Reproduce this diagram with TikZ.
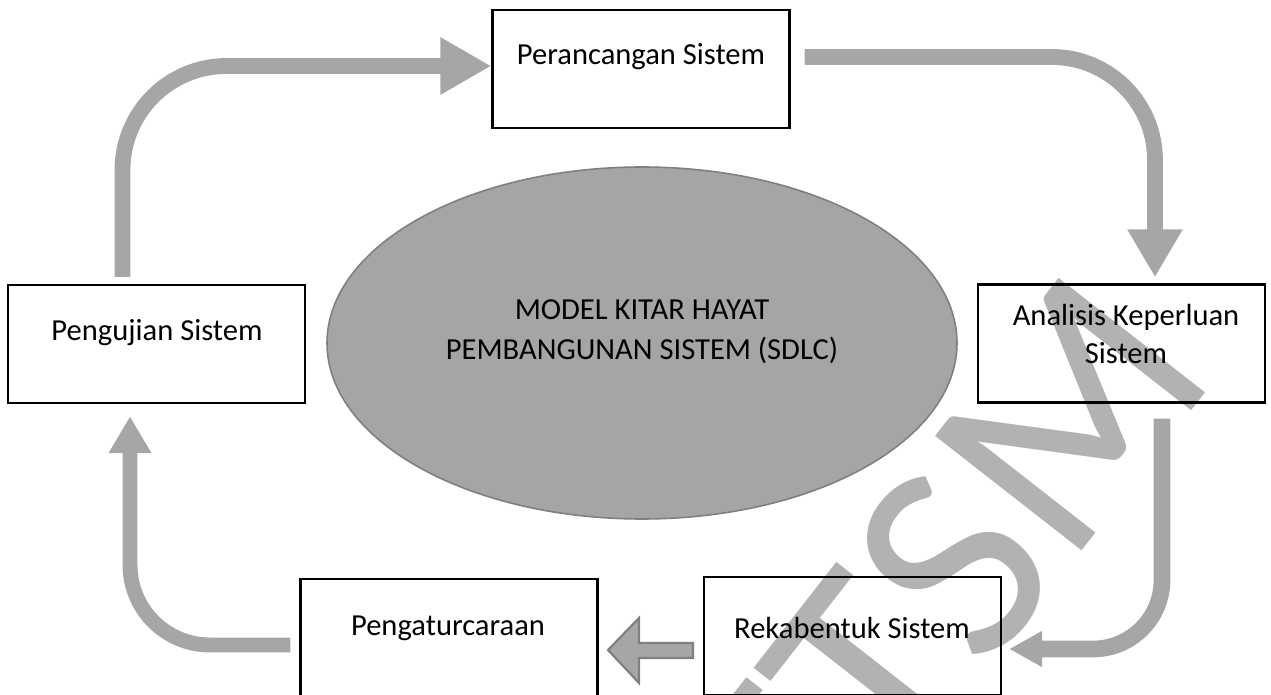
\documentclass[tikz,border=0pt]{standalone}
\usepackage{fontspec}
\setmainfont{Carlito}
\usetikzlibrary{arrows.meta,positioning}

\definecolor{flowgray}{HTML}{A6A6A6}
\definecolor{ovalgray}{HTML}{A5A5A5}
\definecolor{ovaledge}{HTML}{7F7F7F}

\tikzset{
  phase/.style={draw=black, line width=1.4pt, minimum height=2.36cm},
  phaselbl/.style={font=\fontsize{17.4}{21.6}\selectfont, align=center, inner sep=0pt},
  flow/.style={draw=flowgray, line width=9pt},
}

\begin{document}
\begin{tikzpicture}[x=0.02cm, y=-0.02cm]
\newcommand{\Phasew}{5.94cm}; % box width
\useasboundingbox (0,0) rectangle (1271,695);

% centre oval
\draw[fill=ovalgray, draw=ovaledge, line width=0.9pt] (642,343) ellipse [x radius=315, y radius=176];
\node[phaselbl, font=\fontsize{17.4}{22.8}\selectfont] (sdlc) at (642,332) {MODEL KITAR HAYAT\\PEMBANGUNAN SISTEM (SDLC)};

% phase boxes
\node[phase, minimum width=\Phasew] (design)   at (641,69) {};
\node[phase, minimum width=5.74cm]  (analysis) at (1121.5,343.5) {};
\node[phase, minimum width=\Phasew] (redesign) at (852.5,636) {};
\node[phase, minimum width=\Phasew] (code)     at (449,638) {};
\node[phase, minimum width=\Phasew] (test)     at (156.5,344) {};

\node[phaselbl] (designlbl)   at (641,57)  {Perancangan Sistem};
\node[phaselbl] (analysislbl) at (1126,334) {Analisis Keperluan\\Sistem};
\node[phaselbl] (redesignlbl) at (852,628) {Rekabentuk Sistem};
\node[phaselbl] (codelbl)     at (448,628) {Pengaturcaraan};
\node[phaselbl] (testlbl)     at (157,333) {Pengujian Sistem};
%

% flow arrows
\draw[flow, -{Triangle[length=29pt, width=30.7pt]}, rounded corners=2.08cm]
  ([xshift=-0.68cm, yshift=0.14cm]test.north) |- ([yshift=0.06cm]design.west);
\draw[flow, -{Triangle[length=27.3pt, width=29.6pt]}, rounded corners=2.06cm]
  ([xshift=0.28cm, yshift=0.24cm]design.east) -| ([xshift=0.67cm, yshift=0.12cm]analysis.north);
\draw[flow, line width=9.5pt, -{Triangle[length=18.8pt, width=19.3pt]}, rounded corners=1.38cm]
  ([xshift=0.81cm, yshift=-0.3cm]analysis.south) |- ([xshift=0.14cm, yshift=-0.26cm]redesign.east);
\draw[flow, line width=8.5pt, -{Triangle[length=21pt, width=22.8pt]}, rounded corners=1.6cm]
  ([xshift=-0.18cm, yshift=-0.14cm]code.west) -| ([xshift=-0.53cm, yshift=-0.24cm]test.south);

% block arrow between redesign and code
\draw[fill=flowgray, draw=ovaledge, line width=1.2pt]
  (608,650) -- (639,618) -- (639,643) -- (693,643) -- (693,658) -- (639,658) -- (639,683) -- cycle;

% watermark
\node[rotate=52, text=black, opacity=0.3, font=\fontsize{165}{165}\selectfont] (stamp) at (945,575) {FTSM};
\end{tikzpicture}
\end{document}
